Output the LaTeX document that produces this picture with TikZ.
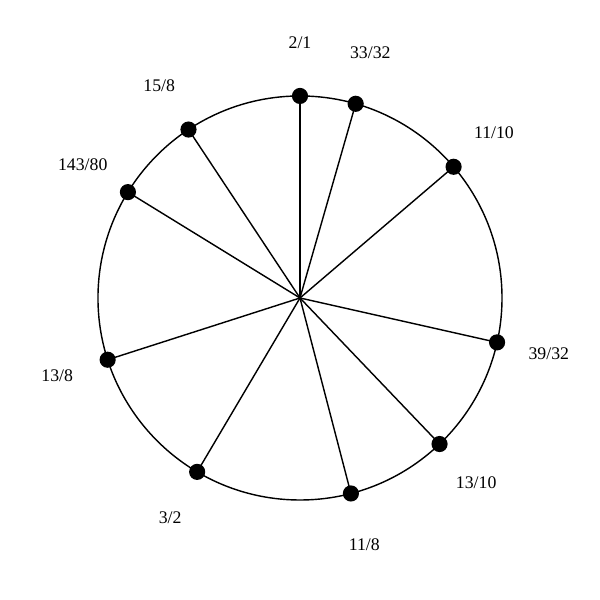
\documentclass[tikz,border=0pt]{standalone}
\usepackage{fontspec}
\setmainfont{Liberation Serif}
\usetikzlibrary{calc}

\begin{document}
\begin{tikzpicture}
        \useasboundingbox (-5.94,-5.98) rectangle (5.94,5.9);

        \draw[line width=0.8pt] (0,0) circle (4);
        \coordinate (centre) at (0,0);

        % angle = 90 - 360*log2(ratio)
        \foreach \ang/\lab/\nm in {90/2\slash 1/a, 74/33\slash 32/b, 40.5/11\slash 10/c,
                -12.7/39\slash 32/d, -46.3/13\slash 10/e, -75.4/11\slash 8/f,
                -120.6/3\slash 2/g, -162.2/13\slash 8/h, 148.4/143\slash 80/i,
                123.5/15\slash 8/j}
        {
        \coordinate (p\nm) at (\ang:4);
        \draw[line width=0.8pt] (centre) -- (p\nm);
        \fill (p\nm) circle (0.16);
        \node[font=\fontsize{10}{12}\selectfont] (l\nm) at (\ang:5.05) {\lab};
        }

        \end{tikzpicture}
\end{document}
